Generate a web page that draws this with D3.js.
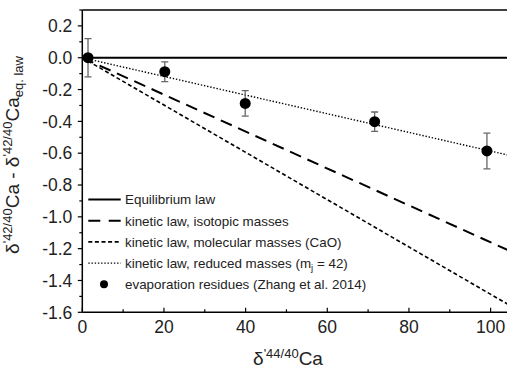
<!DOCTYPE html>
<html>
<head>
<meta charset="utf-8">
<script src="https://cdn.jsdelivr.net/npm/d3@7"></script>
<style>
  html, body { margin: 0; padding: 0; background: #fff; }
  svg { display: block; font-family: "Liberation Sans", Arial, Helvetica, sans-serif; }
</style>
</head>
<body>
<svg id="chart" width="507" height="370"></svg>
<script>
// Mass-dependent fractionation laws (deviation from equilibrium law) and evaporation residues
const lawNames = [
  "Equilibrium law",
  "kinetic law, isotopic masses",
  "kinetic law, molecular masses (CaO)",
  "kinetic law, reduced masses (m_j = 42)"
];
const lawStartX = [0, 0, 0, 0];
const lawStartY = [0, 0, 0, 0];
const lawEndX = [105, 105, 105, 105];
const lawEndY = [0, -1.218, -1.561, -0.616];

const residueX = [1.4, 20.2, 39.9, 71.6, 99.1];
const residueY = [0.0, -0.088, -0.287, -0.402, -0.586];
const residueErr = [0.12, 0.062, 0.08, 0.061, 0.112];
const residueLabel = "evaporation residues (Zhang et al. 2014)";

const xTicks = [0, 20, 40, 60, 80, 100];
const xMinorTicks = [10, 30, 50, 70, 90];
const yTicks = [0.2, 0.0, -0.2, -0.4, -0.6, -0.8, -1.0, -1.2, -1.4, -1.6];
const yMinorTicks = [0.3, 0.1, -0.1, -0.3, -0.5, -0.7, -0.9, -1.1, -1.3, -1.5];

const svg = d3.select("#chart");
const plotLeft = 82.3, plotTop = 10, plotBottom = 312.3;
const x = d3.scaleLinear().domain([0, 105]).range([plotLeft, plotLeft + 105 * 4.083]);
const y = d3.scaleLinear().domain([-1.6, 0.3]).range([plotBottom, plotTop]);

const lineStyles = [
  { width: 2, dash: null },
  { width: 2, dash: "12,7" },
  { width: 1.6, dash: "4,2.6" },
  { width: 1.4, dash: "1.4,1.8" }
];

svg.append("clipPath").attr("id", "plotClip")
  .append("rect").attr("x", plotLeft).attr("y", plotTop)
  .attr("width", 507 - plotLeft).attr("height", plotBottom - plotTop);

const plot = svg.append("g").attr("clip-path", "url(#plotClip)");

// Law lines
lawNames.forEach((name, i) => {
  plot.append("line")
    .attr("x1", x(lawStartX[i])).attr("y1", y(lawStartY[i]))
    .attr("x2", x(lawEndX[i])).attr("y2", y(lawEndY[i]))
    .attr("stroke", "#000")
    .attr("stroke-width", lineStyles[i].width)
    .attr("stroke-dasharray", lineStyles[i].dash);
});

// Error bars
const errG = plot.append("g").attr("stroke", "#666").attr("stroke-width", 1.3);
residueX.forEach((vx, i) => {
  const cx = x(vx), y1 = y(residueY[i] + residueErr[i]), y2 = y(residueY[i] - residueErr[i]);
  errG.append("line").attr("x1", cx).attr("x2", cx).attr("y1", y1).attr("y2", y2);
  errG.append("line").attr("x1", cx - 3.5).attr("x2", cx + 3.5).attr("y1", y1).attr("y2", y1);
  errG.append("line").attr("x1", cx - 3.5).attr("x2", cx + 3.5).attr("y1", y2).attr("y2", y2);
});

// Residue markers
plot.selectAll("circle.res").data(residueX).join("circle")
  .attr("class", "res")
  .attr("cx", d => x(d))
  .attr("cy", (d, i) => y(residueY[i]))
  .attr("r", 5.5)
  .attr("fill", "#000");

// Frame top line
svg.append("line").attr("x1", plotLeft).attr("x2", 507).attr("y1", plotTop).attr("y2", plotTop)
  .attr("stroke", "#000").attr("stroke-width", 1.5);

// X axis (ticks point inward)
const xAxis = svg.append("g").attr("transform", `translate(0,${plotBottom})`);
xAxis.append("line").attr("x1", plotLeft).attr("x2", 507).attr("stroke", "#000").attr("stroke-width", 1.5);
xAxis.selectAll("line.maj").data(xTicks).join("line").attr("class", "maj")
  .attr("x1", d => x(d)).attr("x2", d => x(d)).attr("y1", 0).attr("y2", -4.5)
  .attr("stroke", "#000").attr("stroke-width", 1.2);
xAxis.selectAll("line.min").data(xMinorTicks).join("line").attr("class", "min")
  .attr("x1", d => x(d)).attr("x2", d => x(d)).attr("y1", 0).attr("y2", -3)
  .attr("stroke", "#000").attr("stroke-width", 1.2);
xAxis.selectAll("text").data(xTicks).join("text")
  .attr("x", d => x(d)).attr("y", 21)
  .attr("text-anchor", "middle").attr("font-size", 17.5).attr("fill", "#222")
  .text(d => d3.format("d")(d));

// Y axis (ticks point outward)
const yAxis = svg.append("g").attr("transform", `translate(${plotLeft},0)`);
yAxis.append("line").attr("y1", plotTop).attr("y2", plotBottom).attr("stroke", "#000").attr("stroke-width", 1.5);
yAxis.selectAll("line.maj").data(yTicks).join("line").attr("class", "maj")
  .attr("y1", d => y(d)).attr("y2", d => y(d)).attr("x1", 0).attr("x2", -4.5)
  .attr("stroke", "#000").attr("stroke-width", 1.2);
yAxis.selectAll("line.min").data(yMinorTicks).join("line").attr("class", "min")
  .attr("y1", d => y(d)).attr("y2", d => y(d)).attr("x1", 0).attr("x2", -3)
  .attr("stroke", "#000").attr("stroke-width", 1.2);
yAxis.selectAll("text").data(yTicks).join("text")
  .attr("x", -10).attr("y", d => y(d)).attr("dy", "0.36em")
  .attr("text-anchor", "end").attr("font-size", 17.5).attr("fill", "#222")
  .text(d => d3.format(".1f")(d).replace("−", "-"));

// Axis titles
const xt = svg.append("text").attr("x", 288).attr("y", 365)
  .attr("text-anchor", "middle").attr("font-size", 19).attr("fill", "#222");
xt.append("tspan").text("δ");
xt.append("tspan").attr("font-size", 13).attr("dy", -7).text("'44/40");
xt.append("tspan").attr("dy", 7).text("Ca");

const yt = svg.append("text")
  .attr("transform", "translate(19,155) rotate(-90)")
  .attr("text-anchor", "middle").attr("font-size", 19).attr("fill", "#222");
yt.append("tspan").text("δ");
yt.append("tspan").attr("font-size", 13).attr("dy", -7).text("'42/40");
yt.append("tspan").attr("dy", 7).text("Ca - δ");
yt.append("tspan").attr("font-size", 13).attr("dy", -7).text("'42/40");
yt.append("tspan").attr("dy", 7).text("Ca");
yt.append("tspan").attr("font-size", 13).attr("dy", 4).text("eq. law");

// Legend
const legend = svg.append("g");
const legY0 = 199.5, legStep = 21.2, lx1 = 88.3, lx2 = 120.7, tx = 125;
lawNames.forEach((name, i) => {
  const ly = legY0 + i * legStep;
  const ln = legend.append("line").attr("x1", lx1).attr("x2", lx2).attr("y1", ly).attr("y2", ly)
    .attr("stroke", "#000").attr("stroke-width", lineStyles[i].width);
  if (i === 1) ln.attr("stroke-dasharray", "12,8.4");
  else if (lineStyles[i].dash) ln.attr("stroke-dasharray", lineStyles[i].dash);
  const t = legend.append("text").attr("x", tx).attr("y", ly).attr("dy", "0.36em")
    .attr("font-size", 13.4).attr("fill", "#222");
  const parts = name.split("m_j");
  t.append("tspan").text(parts[0]);
  if (parts.length > 1) {
    t.append("tspan").text("m");
    t.append("tspan").attr("font-size", 9.5).attr("dy", 3).text("j");
    t.append("tspan").attr("dy", -3).text(parts[1]);
  }
});
const dotY = legY0 + 4 * legStep;
legend.append("circle").attr("cx", 104).attr("cy", dotY).attr("r", 4).attr("fill", "#000");
legend.append("text").attr("x", tx).attr("y", dotY).attr("dy", "0.36em")
  .attr("font-size", 13.4).attr("fill", "#222").text(residueLabel);
</script>
</body>
</html>
